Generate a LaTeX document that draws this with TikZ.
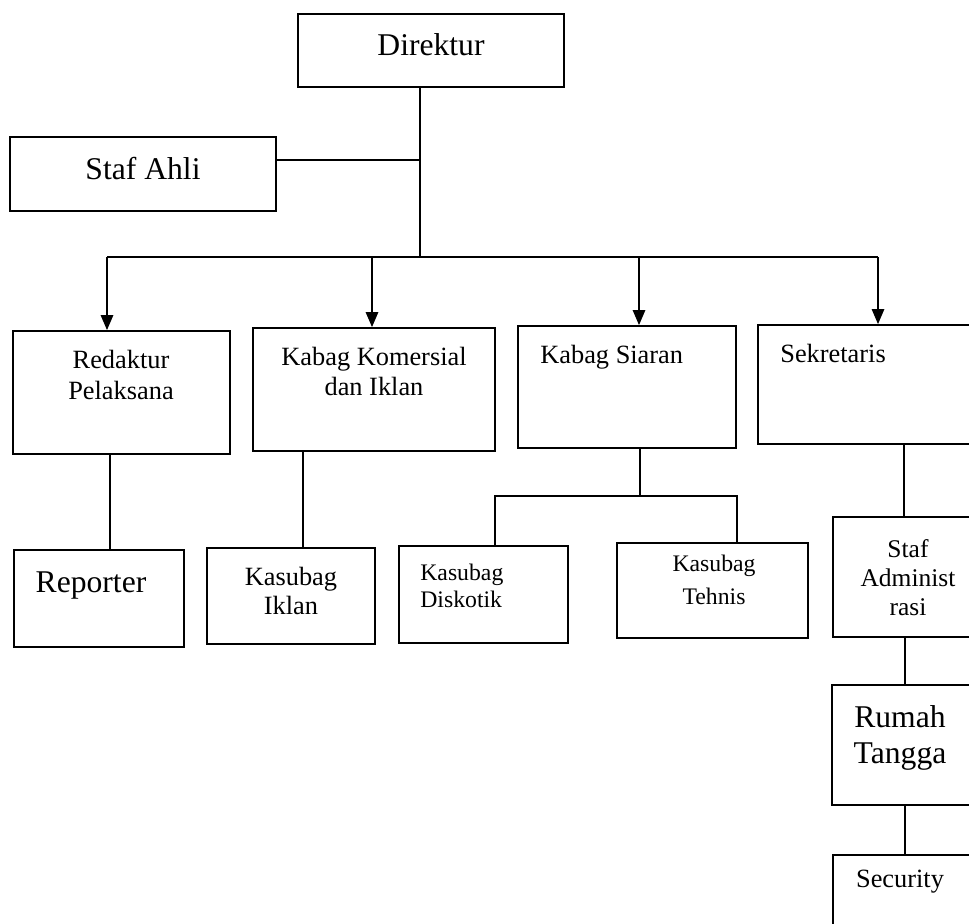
\documentclass[tikz,border=0pt]{standalone}
\usepackage{fontspec}
\setmainfont{Liberation Serif}
\usetikzlibrary{arrows.meta, positioning}

\begin{document}
\begin{tikzpicture}[
  box/.style={draw=black, line width=1pt, inner sep=0pt},
  txt/.style={inner sep=0pt, align=center},
  lnk/.style={line width=1pt},
  arr/.style={lnk, -{Triangle[width=7pt, length=8.5pt]}}]
  \useasboundingbox (0,0) rectangle (19.38,-18.46);
  \clip (0,0) rectangle (19.38,-18.46);
  % top
  \node[box, minimum width=5.32cm, minimum height=1.46cm] (dir) at (8.62,-1.01) {};
  \node[txt, font=\fontsize{18}{20}\selectfont] (dirT) at (8.62,-0.89) {Direktur};
  \node[box, minimum width=5.32cm, minimum height=1.48cm] (sah) at (2.86,-3.48) {};
  \node[txt, font=\fontsize{18}{20}\selectfont] (sahT) at (2.86,-3.38) {Staf Ahli};
  % second row
  \node[box, minimum width=4.34cm, minimum height=2.46cm] (red) at (2.43,-7.85) {};
  \node[txt, font=\fontsize{15}{17.6}\selectfont] (redT) at (2.42,-7.5) {Redaktur\\Pelaksana};
  \node[box, minimum width=4.84cm, minimum height=2.46cm] (kom) at (7.48,-7.79) {};
  \node[txt, font=\fontsize{15}{17.6}\selectfont] (komT) at (7.48,-7.43) {Kabag Komersial\\dan Iklan};
  \node[box, minimum width=4.36cm, minimum height=2.44cm] (siar) at (12.54,-7.74) {};
  \node[txt, anchor=west, font=\fontsize{15}{17.6}\selectfont] (siarT) at (10.8,-7.14) {Kabag Siaran};
  \node[box, minimum width=4.64cm, minimum height=2.38cm] (sek) at (17.48,-7.69) {};
  \node[txt, anchor=west, font=\fontsize{15}{17.6}\selectfont] (sekT) at (15.6,-7.06) {Sekretaris};
  % third row
  \node[box, minimum width=3.4cm, minimum height=1.94cm] (rep) at (1.98,-11.97) {};
  \node[txt, font=\fontsize{18}{20}\selectfont] (repT) at (1.82,-11.7) {Reporter};
  \node[box, minimum width=3.36cm, minimum height=1.92cm] (kik) at (5.82,-11.92) {};
  \node[txt, font=\fontsize{15}{16.2}\selectfont] (kikT) at (5.82,-11.82) {Kasubag\\Iklan};
  \node[box, minimum width=3.38cm, minimum height=1.94cm] (disk) at (9.67,-11.89) {};
  \node[txt, anchor=west, align=left, font=\fontsize{13.5}{15.4}\selectfont] (diskT) at (8.4,-11.71) {Kasubag\\Diskotik};
  \node[box, minimum width=3.82cm, minimum height=1.9cm] (teh) at (14.25,-11.81) {};
  \node[txt, font=\fontsize{13.5}{18.8}\selectfont] (tehT) at (14.28,-11.6) {Kasubag\\Tehnis};
  \node[box, minimum width=3.14cm, minimum height=2.4cm] (sa) at (18.23,-11.54) {};
  \node[txt, font=\fontsize{14.5}{16.5}\selectfont] (saT) at (18.16,-11.56) {Staf\\Administ\\rasi};
  % right column
  \node[box, minimum width=3.16cm, minimum height=2.4cm] (rt) at (18.22,-14.9) {};
  \node[txt, font=\fontsize{18}{20.5}\selectfont] (rtT) at (18.0,-14.76) {Rumah\\Tangga};
  \node[box, minimum width=3.14cm, minimum height=2.7cm] (sec) at (18.23,-18.45) {};
  \node[txt, font=\fontsize{15}{17}\selectfont] (secT) at (18.0,-17.64) {Security};
  % links
  \coordinate (trunk) at (8.4,-5.14);
  \coordinate (ahli) at (5.52,-3.2);
  \coordinate (b1) at (2.14,-5.14);
  \coordinate (b2) at (7.44,-5.14);
  \coordinate (b3) at (12.78,-5.14);
  \coordinate (b4) at (17.56,-5.14);
  \coordinate (sub) at (12.8,-9.92);
  \draw[lnk] (dir.south -| trunk) -- (trunk);
  \draw[lnk] (ahli) -- (ahli -| trunk);
  \draw[lnk] (b1) -- (b4);
  \draw[arr] (b1) -- (b1 |- red.north);
  \draw[arr] (b2) -- (b2 |- kom.north);
  \draw[arr] (b3) -- (b3 |- siar.north);
  \draw[arr] (b4) -- (b4 |- sek.north);
  \draw[lnk] (red.south -| 2.2,0) -- (rep.north -| 2.2,0);
  \draw[lnk] (kom.south -| 6.06,0) -- (kik.north -| 6.06,0);
  \draw[lnk] (siar.south -| sub) -- (sub);
  \draw[lnk] (disk.north -| 9.9,0) |- (sub) -| (teh.north -| 14.74,0);
  \draw[lnk] (sek.south -| 18.08,0) -- (sa.north -| 18.08,0);
  \draw[lnk] (sa.south -| 18.1,0) -- (rt.north -| 18.1,0);
  \draw[lnk] (rt.south -| 18.1,0) -- (sec.north -| 18.1,0);
\end{tikzpicture}
\end{document}
